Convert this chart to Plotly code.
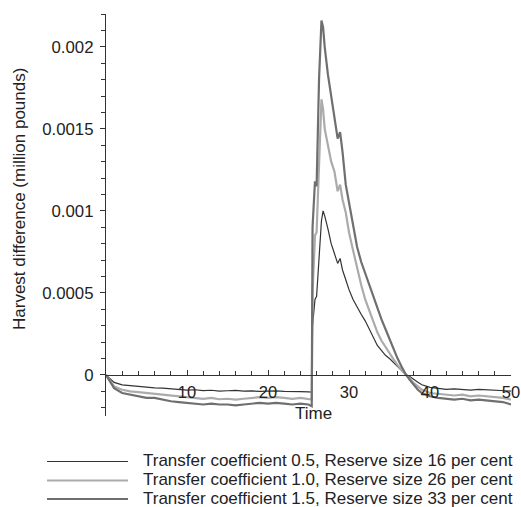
import plotly.graph_objects as go

# ---------------- data ----------------
time = [0, 1, 2, 3, 4, 5, 6, 7, 8, 9, 10, 11, 12, 13, 14, 15, 16, 17, 18, 19, 20,
        21, 22, 23, 24, 25, 25.4, 25.5, 25.8, 26.0, 26.3, 26.6, 26.8, 27.0, 27.4,
        27.8, 28.2, 28.6, 28.9, 29.2, 29.6, 30.0, 30.5, 31.0, 31.5, 32.0, 32.5,
        33.0, 33.5, 34.0, 34.5, 35.0, 35.5, 36.0, 36.5, 37.0, 37.5, 38.0, 38.5,
        39, 40, 41, 42, 43, 44, 45, 46, 47, 48, 49, 50]

harvest_tc05 = [0, -0.000045, -0.000060, -0.000065, -0.000070, -0.000072, -0.000078,
                -0.000080, -0.000085, -0.000088, -0.000092, -0.000090, -0.000095,
                -0.000093, -0.000098, -0.000096, -0.000094, -0.000099, -0.000097,
                -0.000100, -0.000098, -0.000097, -0.000100, -0.000099, -0.000101,
                -0.000103, -0.000105, 0.00030, 0.00046, 0.00048, 0.00072, 0.00094,
                0.00100, 0.00097, 0.00089, 0.00080, 0.00074, 0.00068, 0.00071,
                0.00064, 0.00058, 0.00052, 0.00046, 0.00041, 0.00037, 0.00033,
                0.00028, 0.00022, 0.00018, 0.00015, 0.00012, 0.00010, 0.000075,
                0.000055, 0.000030, 0.000003, -0.000010, -0.000030, -0.000045,
                -0.000060, -0.000075, -0.000082, -0.000088, -0.000085, -0.000090,
                -0.000092, -0.000088, -0.000090, -0.000093, -0.000092, -0.000098]

harvest_tc10 = [0, -0.00007, -0.00009, -0.00010, -0.000105, -0.00011, -0.000115,
                -0.00012, -0.000125, -0.00013, -0.000135, -0.00014, -0.000145,
                -0.00014, -0.000148, -0.000145, -0.00015, -0.000145, -0.00014,
                -0.000135, -0.00014, -0.000135, -0.00014, -0.000145, -0.00014,
                -0.000145, -0.00015, 0.00050, 0.00085, 0.00087, 0.00130, 0.00168,
                0.00162, 0.00150, 0.00140, 0.00130, 0.00124, 0.00112, 0.00116,
                0.00107, 0.00099, 0.00087, 0.00076, 0.00065, 0.00055, 0.00046,
                0.00039, 0.00032, 0.00026, 0.00021, 0.00017, 0.00013, 0.000095,
                0.000060, 0.000030, 0.000003, -0.00002, -0.00005, -0.00007,
                -0.00009, -0.00011, -0.000115, -0.00012, -0.000125, -0.00012,
                -0.00013, -0.000125, -0.00013, -0.000135, -0.00014, -0.00015]

harvest_tc15 = [0, -0.00008, -0.00011, -0.00012, -0.00013, -0.00014, -0.00014,
                -0.00015, -0.00016, -0.000165, -0.00017, -0.000175, -0.00018,
                -0.000175, -0.00018, -0.00018, -0.000185, -0.00018, -0.000175,
                -0.00017, -0.000175, -0.00017, -0.000175, -0.00018, -0.000175,
                -0.00018, -0.00019, 0.00090, 0.00118, 0.00115, 0.00180, 0.00216,
                0.00212, 0.00200, 0.00183, 0.00170, 0.00160, 0.00144, 0.00148,
                0.00136, 0.00116, 0.00105, 0.00093, 0.00078, 0.00069, 0.00062,
                0.00054, 0.00047, 0.00041, 0.00034, 0.00028, 0.00022, 0.00015,
                0.00010, 0.00005, 0.000005, -0.00003, -0.00006, -0.00009,
                -0.00011, -0.00013, -0.00014, -0.000145, -0.00015, -0.000145,
                -0.000155, -0.00015, -0.000155, -0.00016, -0.000165, -0.00018]

series_names = ["Transfer coefficient 0.5, Reserve size 16 per cent",
                "Transfer coefficient 1.0, Reserve size 26 per cent",
                "Transfer coefficient 1.5, Reserve size 33 per cent"]

x_tickvals = [10, 20, 30, 40, 50]
y_tickvals = [0, 0.0005, 0.001, 0.0015, 0.002]
y_ticktext = ["0", "0.0005", "0.001", "0.0015", "0.002"]

# ---------------- styling ----------------
W, H = 521, 507
ML, MR, MT, MB = 106, 10, 14, 91
YMIN, YMAX = -0.00025, 0.0022
colors = ["#333333", "#ababab", "#6f6f6f"]
widths = [1.2, 2.2, 2.2]
FONT = "Liberation Sans, Arial, sans-serif"
TXT = "#222222"

fig = go.Figure()
for ys, name, c, w in zip([harvest_tc05, harvest_tc10, harvest_tc15], series_names, colors, widths):
    fig.add_trace(go.Scatter(x=time, y=ys, mode="lines", name=name,
                             line=dict(color=c, width=w), showlegend=False))

plot_w = W - ML - MR
plot_h = H - MT - MB


def px_to_paper_x(px):
    return (px - ML) / plot_w


def px_to_paper_y(py):
    return (H - MB - py) / plot_h


zero_pos = (0 - YMIN) / (YMAX - YMIN)

fig.update_layout(
    width=W, height=H,
    margin=dict(l=ML, r=MR, t=MT, b=MB, autoexpand=False),
    plot_bgcolor="white", paper_bgcolor="white",
    font=dict(family=FONT, size=17, color=TXT),
    xaxis=dict(range=[0, 50], anchor="free", position=zero_pos, automargin=False,
               showline=True, linecolor="#333333", linewidth=1.3,
               ticks="inside", ticklen=5, tickcolor="#333333", tickwidth=1,
               tickvals=x_tickvals, ticktext=[str(v) for v in x_tickvals],
               minor=dict(dtick=2, tick0=0, ticks="inside", ticklen=4,
                          tickcolor="#333333", tickwidth=1),
               showgrid=False, zeroline=False, ticklabelstandoff=2,
               tickfont=dict(size=16.5, color=TXT)),
    yaxis=dict(range=[YMIN, YMAX], automargin=False,
               showline=True, linecolor="#333333", linewidth=1.3,
               ticks="outside", ticklen=5, tickcolor="#333333", tickwidth=1,
               tickvals=y_tickvals, ticktext=y_ticktext,
               minor=dict(dtick=0.0001, tick0=0, ticks="outside", ticklen=4,
                          tickcolor="#333333", tickwidth=1),
               showgrid=False, zeroline=False, ticklabelstandoff=3,
               tickfont=dict(size=16.8, color=TXT)),
)

annotations = [
    dict(text="Harvest difference (million pounds)", textangle=-90,
         xref="paper", yref="paper", x=px_to_paper_x(20), y=px_to_paper_y(199),
         xanchor="center", yanchor="middle", showarrow=False,
         font=dict(size=17, color=TXT)),
    dict(text="Time", xref="paper", yref="paper",
         x=px_to_paper_x(313), y=px_to_paper_y(413),
         xanchor="center", yanchor="middle", showarrow=False,
         font=dict(size=17, color=TXT)),
]
shapes = []
legend_rows = [460.5, 479.5, 498]
for name, c, w, ry in zip(series_names, colors, widths, legend_rows):
    shapes.append(dict(type="line", xref="paper", yref="paper",
                       x0=px_to_paper_x(47), x1=px_to_paper_x(128),
                       y0=px_to_paper_y(ry + 1), y1=px_to_paper_y(ry + 1),
                       line=dict(color=c, width=w)))
    annotations.append(dict(text=name, xref="paper", yref="paper",
                            x=px_to_paper_x(141), y=px_to_paper_y(ry),
                            xanchor="left", yanchor="middle", showarrow=False,
                            font=dict(size=17, color=TXT)))

fig.update_layout(annotations=annotations, shapes=shapes)
fig.write_html("out.html")
